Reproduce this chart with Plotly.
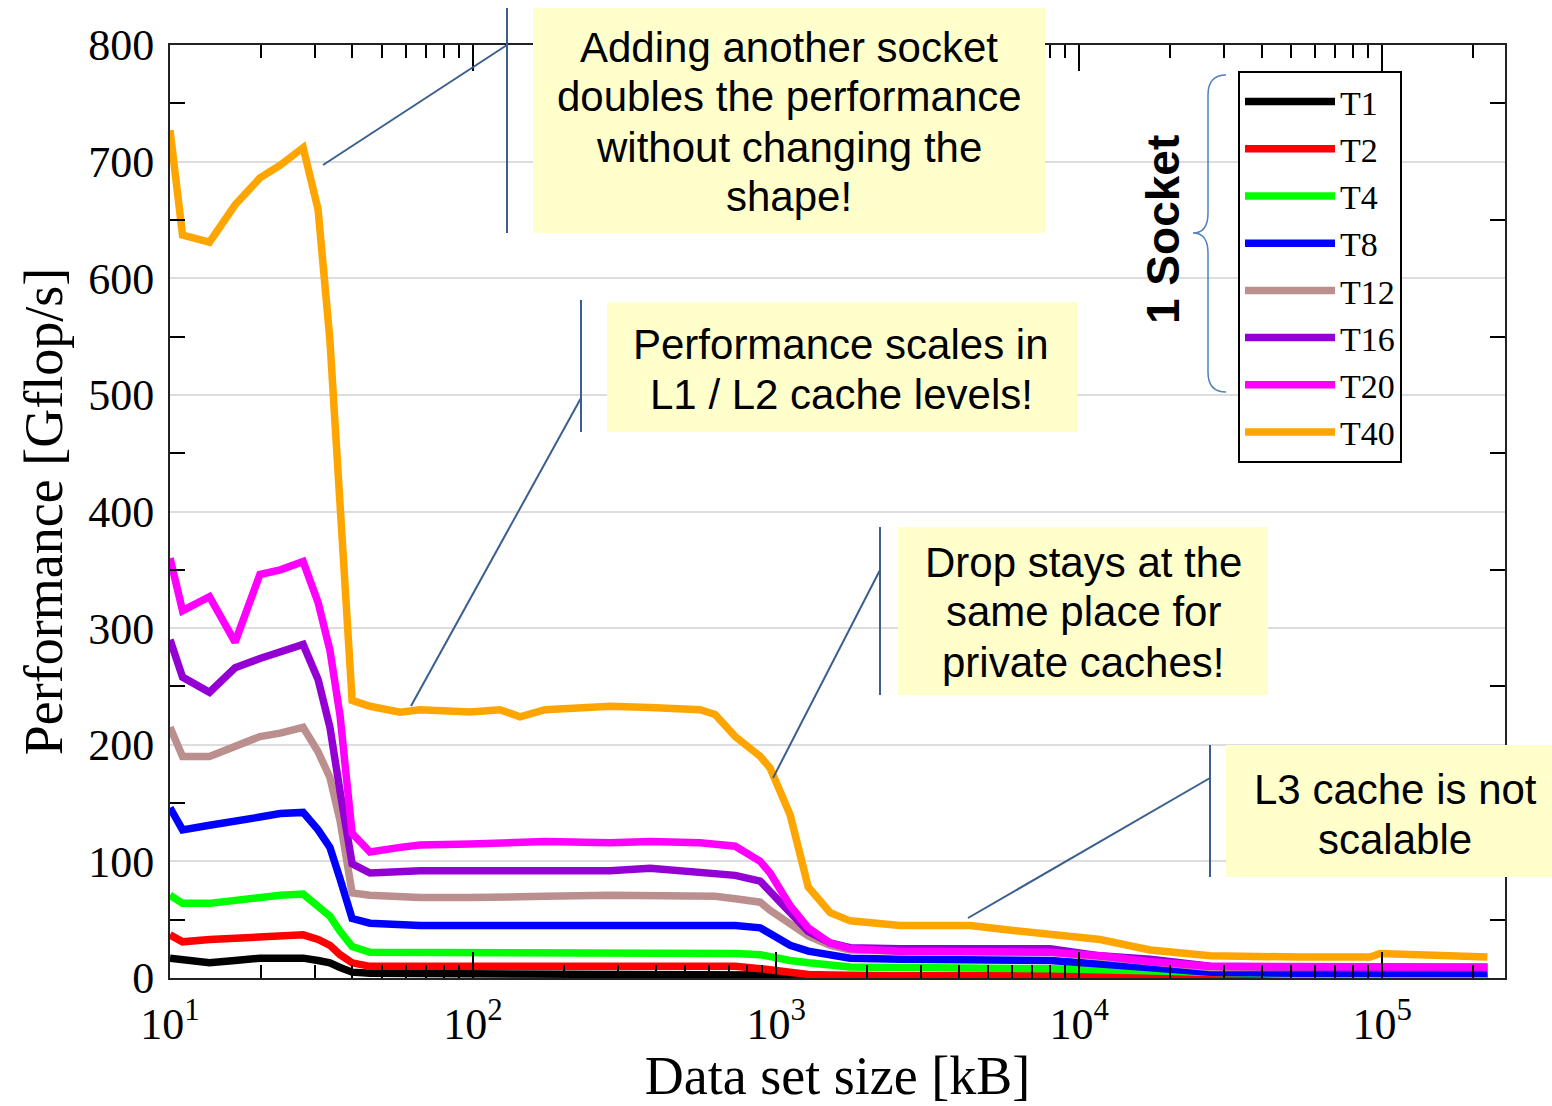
import plotly.graph_objects as go

# ---------------- data ----------------
x_kb = [10, 11, 13.5, 16.4, 19.8, 23.1, 27.5, 30.8, 33.7, 36.4, 39.9, 45.7, 57.4, 66.8,
        97.7, 122.7, 142.9, 172.8, 283, 384, 561, 629, 733, 886, 955, 1112, 1276, 1508,
        1755, 2565, 4365, 5480, 8015, 11730, 17140, 27050, 53580, 91200, 98400, 133400, 222300]

T1 = [17, 16, 13, 15, 17, 17, 17, 15, 13, 9, 5, 4, 4, 4, 4, 4, 4, 4, 4, 4, 4, 4, 4, 3,
      2.5, 2, 1.5, 1, 1, 1, 1, 1, 1, 1, 0.8, 0.5, 0.5, 0.5, 0.5, 0.5, 0.5]
T2 = [37, 31, 33, 34, 35, 35, 37, 33, 28, 20, 13, 10, 10, 10, 10, 10, 10, 10, 10, 10, 10,
      10, 10, 8, 7, 5, 3, 2.5, 2, 2, 2, 2, 2, 2, 2, 1.5, 1.5, 1.5, 1.5, 1.5, 1.5]
T4 = [71, 64, 64, 67, 70, 71, 72, 62, 53, 40, 27, 22, 22, 22, 22, 22, 22, 22, 22, 22, 22,
      22, 21, 20, 18, 15, 13, 11, 9.5, 9, 9, 8.5, 8, 7, 6, 4, 3, 3, 3, 3, 3]
T8 = [146, 127, 131, 134, 138, 141, 142, 127, 112, 85, 51, 47, 45, 45, 45, 45, 46, 46, 46,
      45, 46, 46, 45, 43, 38, 28, 23, 20, 17, 16, 16, 15, 15, 12, 9, 5, 4, 4, 4, 4, 4]
T12 = [215, 190, 190, 198, 207, 210, 215, 194, 172, 135, 73, 71, 69, 69, 69, 69, 70, 70, 71,
       71, 71, 70, 68, 65, 58, 46, 36, 28, 24, 23, 23, 23, 22, 18, 14, 9, 9, 9, 9, 9, 9]
T16 = [290, 258, 245, 266, 274, 279, 286, 256, 215, 160, 98, 90, 91, 92, 92, 92, 92, 92, 92,
       94, 91, 90, 88, 83, 74, 56, 40, 30, 26, 25, 25, 25, 25, 19, 16, 10, 9, 9, 9, 9, 9]
T20 = [360, 315, 327, 288, 346, 350, 357, 322, 281, 225, 124, 108, 112, 114, 115, 116, 116,
       117, 116, 117, 116, 115, 113, 100, 90, 62, 43, 30, 25, 23, 23, 23, 22, 19, 14, 10,
       9.5, 9.5, 9.5, 9.5, 9.5]
T40 = [727, 637, 631, 663, 686, 697, 712, 659, 547, 410, 238, 233, 228, 230, 228, 230, 224,
       230, 233, 232, 230, 226, 207, 190, 180, 140, 78, 56, 49, 45, 45, 42, 38, 33, 24, 19,
       18, 18, 21, 20, 18]

series_names = ["T1", "T2", "T4", "T8", "T12", "T16", "T20", "T40"]
series_values = [T1, T2, T4, T8, T12, T16, T20, T40]
series_colors = ["#000000", "#FF0000", "#00FF00", "#0000FF", "#BC8F8F", "#9400D3",
                 "#FF00FF", "#FFA500"]

y_tick_vals = [0, 100, 200, 300, 400, 500, 600, 700, 800]
y_minor_vals = [50, 150, 250, 350, 450, 550, 650, 750]
x_tick_vals = [10, 100, 1000, 10000, 100000]
x_tick_text = ["10<sup>1</sup>", "10<sup>2</sup>", "10<sup>3</sup>", "10<sup>4</sup>", "10<sup>5</sup>"]
x_minor_vals = [m * d for d in [10, 100, 1000, 10000, 100000] for m in range(2, 10)][:-6]

notes = [
    ["Adding another socket", "doubles the performance", "without changing the", "shape!"],
    ["Performance scales in", "L1 / L2 cache levels!"],
    ["Drop stays at the", "same place for", "private caches!"],
    ["L3 cache is not", "scalable"],
]

# ---------------- layout geometry helpers (pixels -> paper) ----------------
W, H = 1552, 1106
L, R, T, B = 170, 1505, 45, 978


def px(x):
    return (x - L) / (R - L)


def py(y):
    return (B - y) / (B - T)


fig = go.Figure()
for name, vals, col in zip(series_names, series_values, series_colors):
    fig.add_trace(go.Scatter(x=x_kb, y=vals, mode="lines", name=name,
                             line=dict(color=col, width=7.5)))

serif = "Liberation Serif, Times New Roman, serif"
sans = "Liberation Sans, Arial, sans-serif"

fig.update_layout(
    width=W, height=H, autosize=False,
    margin=dict(l=L, r=W - R, t=T, b=H - B),
    paper_bgcolor="white", plot_bgcolor="white",
    font=dict(family=serif, color="black"),
    legend=dict(x=px(1238), y=py(71), xanchor="left", yanchor="top",
                bordercolor="black", borderwidth=2, bgcolor="white",
                font=dict(family=serif, size=34), itemwidth=90,
                tracegroupgap=0),
    showlegend=True,
)

fig.update_xaxes(
    type="log", range=[1, 5.405],
    tickvals=x_tick_vals, ticktext=x_tick_text,
    ticks="inside", ticklen=26, tickwidth=2, tickcolor="black",
    minor=dict(tickvals=x_minor_vals, ticks="inside", ticklen=13, tickwidth=2,
               tickcolor="black", showgrid=False),
    showline=True, linecolor="#222", linewidth=2, mirror="allticks",
    showgrid=False, zeroline=False,
    tickfont=dict(family=serif, size=44),
    ticklabelstandoff=6,
    title=dict(text="Data set size [kB]", font=dict(family=serif, size=54), standoff=8),
)
fig.update_yaxes(
    range=[0, 800],
    tickvals=y_tick_vals,
    ticks="inside", ticklen=0, tickwidth=2, tickcolor="black",
    minor=dict(tickvals=y_minor_vals, ticks="inside", ticklen=15, tickwidth=2,
               tickcolor="black", showgrid=False),
    showline=True, linecolor="#222", linewidth=2, mirror="allticks",
    showgrid=True, gridcolor="#DDDDDD", gridwidth=2, zeroline=False,
    tickfont=dict(family=serif, size=44),
    ticklabelstandoff=5,
    title=dict(text="Performance [Gflop/s]", font=dict(family=serif, size=54), standoff=8),
)

# ---------------- callout boxes ----------------
line_col = "#3A5F8F"
boxes = [(533, 8, 1045, 233), (607, 302, 1077, 432), (898, 527, 1268, 695), (1226, 745, 1552, 877)]
text_centers = [(789, [47, 97, 147, 197]), (841, [344, 395]), (1083, [562, 612, 662]), (1395, [789, 839])]
vlines = [(507, 8, 233), (581, 300, 432), (880, 527, 695), (1210, 745, 877)]
pointers = [((507, 45), (323, 165)), ((581, 398), (411, 706)), ((880, 570), (773, 778)),
            ((1210, 778), (968, 918))]

shapes = []
for (x0, y0, x1, y1) in boxes:
    shapes.append(dict(type="rect", xref="paper", yref="paper", x0=px(x0), x1=px(x1),
                       y0=py(y1), y1=py(y0), fillcolor="#FFFFCC", line=dict(width=0),
                       layer="above"))
for (x, y0, y1) in vlines:
    shapes.append(dict(type="line", xref="paper", yref="paper", x0=px(x), x1=px(x),
                       y0=py(y0), y1=py(y1), line=dict(color=line_col, width=2)))
for (a, b) in pointers:
    shapes.append(dict(type="line", xref="paper", yref="paper", x0=px(a[0]), y0=py(a[1]),
                       x1=px(b[0]), y1=py(b[1]), line=dict(color=line_col, width=2)))


# curly brace
def P(x, y):
    return f"{px(x):.5f},{py(y):.5f}"


brace = (f"M{P(1226, 75)} Q{P(1208, 75)} {P(1208, 95)} L{P(1208, 213)} "
         f"Q{P(1208, 233)} {P(1193, 233)} Q{P(1208, 233)} {P(1208, 253)} "
         f"L{P(1208, 372)} Q{P(1208, 392)} {P(1226, 392)}")
shapes.append(dict(type="path", xref="paper", yref="paper", path=brace,
                   line=dict(color="#4F81BD", width=1.5)))
fig.update_layout(shapes=shapes)

annotations = []
for lines, (cx, ys) in zip(notes, text_centers):
    for txt, yy in zip(lines, ys):
        annotations.append(dict(x=px(cx), y=py(yy), xref="paper", yref="paper",
                                text=txt, showarrow=False, xanchor="center", yanchor="middle",
                                font=dict(family=sans, size=42, color="black")))
annotations.append(dict(x=px(1163), y=py(230), xref="paper", yref="paper",
                        text="<b>1 Socket</b>", showarrow=False, textangle=-90,
                        xanchor="center", yanchor="middle",
                        font=dict(family=sans, size=46, color="black")))
fig.update_layout(annotations=annotations)

fig.write_html("out.html")
